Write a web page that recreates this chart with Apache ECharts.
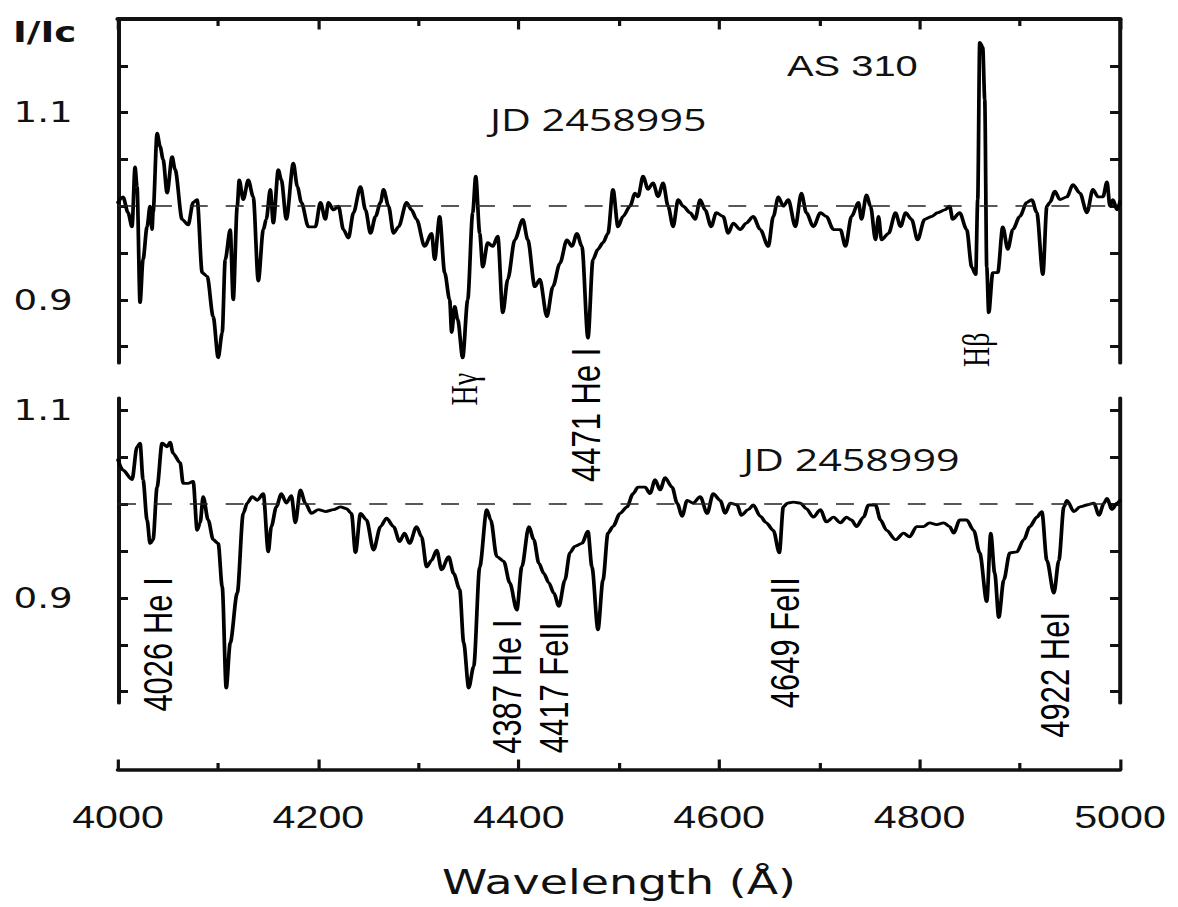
<!DOCTYPE html>
<html>
<head>
<meta charset="utf-8">
<script src="https://cdn.jsdelivr.net/npm/echarts@6/dist/echarts.min.js"></script>
<style>
  html, body { margin: 0; padding: 0; background: #fff; overflow: hidden; }
  /* The figure is laid out on a narrower canvas and widened horizontally */
  #chart { width: 886px; height: 907px; transform: scaleX(1.3296); transform-origin: 0 0; }
</style>
</head>
<body>
<div id="chart"></div>
<script>
// AS 310 spectra, normalised intensity I/Ic against wavelength (Angstrom)

// JD 2458995
const topWl = [4000,4005,4010,4014,4017,4019,4022,4025,4029,4032,4034,4035,4039,4042,4045,4049,4054,4057,4064,4070,4075,4079,4084,4089,4095,4100,4104,4107,4112,4115,4119,4121,4125,4130,4135,4140,4145,4148,4152,4155,4160,4163,4168,4175,4179,4183,4190,4197,4202,4207,4210,4215,4220,4225,4230,4235,4242,4247,4252,4257,4262,4265,4270,4275,4280,4288,4293,4298,4306,4313,4316,4321,4326,4331,4333,4336,4339,4344,4349,4354,4357,4361,4364,4369,4374,4379,4384,4389,4396,4404,4409,4416,4421,4428,4434,4441,4448,4453,4458,4463,4469,4474,4479,4484,4489,4494,4499,4504,4511,4516,4519,4524,4529,4534,4539,4544,4549,4554,4559,4564,4571,4576,4581,4586,4592,4597,4604,4609,4614,4621,4627,4634,4641,4649,4654,4659,4664,4669,4676,4682,4687,4694,4701,4707,4714,4721,4726,4732,4739,4742,4747,4751,4756,4759,4762,4769,4776,4781,4786,4792,4798,4805,4812,4818,4825,4830,4833,4840,4847,4852,4856,4858,4860,4863,4865,4867,4869,4873,4878,4883,4888,4893,4900,4907,4912,4917,4923,4927,4930,4935,4940,4947,4953,4960,4967,4973,4978,4983,4987,4990,4993,4997,5000];
const topFlux = [1.004,1.010,0.993,0.978,1.042,1.021,0.897,0.943,0.978,1.000,0.975,0.993,1.078,1.064,1.050,1.014,1.053,1.039,0.986,0.980,1.004,1.007,0.929,0.925,0.882,0.838,0.865,0.943,0.975,0.900,1.000,1.028,1.007,1.028,1.010,0.920,0.975,0.986,1.018,0.982,1.039,1.028,0.986,1.046,1.021,1.004,0.978,0.978,1.004,0.986,1.004,0.996,1.000,0.975,0.966,0.993,1.021,0.996,0.971,0.989,1.004,1.018,1.000,0.971,0.978,1.004,0.996,0.986,0.957,0.971,0.943,0.989,0.929,0.900,0.865,0.893,0.879,0.838,0.900,0.993,1.032,0.971,0.935,0.961,0.957,0.968,0.886,0.922,0.964,0.986,0.964,0.914,0.922,0.882,0.914,0.939,0.964,0.957,0.971,0.957,0.859,0.943,0.954,0.961,0.971,1.018,0.978,0.989,1.000,1.014,1.010,1.032,1.018,1.025,1.010,1.025,1.000,0.978,1.007,1.000,0.993,0.986,1.007,0.996,0.978,0.993,0.989,0.971,0.982,0.975,0.982,0.989,0.975,0.957,0.989,1.010,1.000,1.007,0.978,1.014,0.993,0.978,0.993,0.989,0.975,0.975,0.957,0.989,1.004,0.986,1.012,1.000,0.964,0.989,0.964,0.971,0.993,0.978,0.993,0.986,0.964,0.986,0.989,0.993,0.996,1.000,0.986,0.993,0.975,0.935,0.927,1.007,1.175,1.170,1.114,0.935,0.886,0.929,0.929,0.978,0.954,0.975,0.989,1.004,1.007,0.993,0.927,1.000,1.004,1.016,1.007,1.010,1.023,1.014,0.993,1.018,1.010,1.010,1.026,1.000,1.007,0.996,1.005];

// JD 2458999
const botWl = [4000,4005,4014,4019,4022,4025,4029,4032,4035,4039,4044,4049,4052,4055,4062,4065,4070,4075,4079,4082,4085,4090,4095,4100,4104,4108,4112,4119,4125,4129,4134,4139,4145,4150,4153,4158,4163,4168,4173,4177,4182,4187,4193,4200,4207,4215,4222,4228,4233,4237,4242,4248,4255,4262,4268,4275,4281,4286,4291,4298,4303,4308,4313,4318,4323,4330,4335,4341,4345,4350,4355,4361,4368,4372,4378,4385,4391,4398,4403,4410,4415,4420,4425,4430,4435,4440,4446,4451,4456,4463,4469,4473,4479,4484,4489,4494,4501,4508,4514,4519,4526,4531,4536,4541,4546,4553,4558,4563,4568,4574,4581,4588,4594,4601,4606,4611,4618,4622,4629,4634,4641,4647,4654,4660,4664,4668,4674,4681,4687,4694,4701,4707,4714,4721,4727,4732,4737,4744,4749,4756,4761,4767,4776,4784,4790,4797,4804,4810,4817,4824,4830,4834,4840,4847,4854,4860,4867,4871,4875,4879,4884,4890,4897,4904,4910,4917,4922,4927,4934,4939,4944,4947,4954,4960,4967,4974,4979,4984,4987,4992,4997,5000];
const botFlux = [1.047,1.036,1.026,1.061,1.065,1.026,0.983,0.958,0.962,1.018,1.065,1.061,1.066,1.054,1.044,1.022,1.022,1.024,0.972,0.980,1.008,0.983,0.962,0.958,0.912,0.804,0.852,0.905,0.990,1.001,1.008,1.004,1.011,0.949,0.976,0.997,1.011,1.001,1.009,0.980,1.015,1.001,0.990,0.994,0.992,0.994,0.997,0.995,0.990,0.948,0.990,0.983,0.951,0.976,0.985,0.976,0.960,0.969,0.958,0.976,0.965,0.933,0.940,0.951,0.930,0.944,0.926,0.909,0.852,0.804,0.827,0.933,0.994,0.983,0.944,0.939,0.916,0.887,0.933,0.976,0.962,0.937,0.926,0.916,0.905,0.891,0.919,0.948,0.955,0.958,0.971,0.933,0.866,0.919,0.969,0.976,0.990,0.997,1.011,1.018,1.018,1.011,1.026,1.015,1.028,1.018,1.001,0.987,1.004,1.001,1.008,0.990,1.011,1.004,0.990,1.001,0.999,0.988,0.994,0.999,0.987,0.980,0.972,0.948,0.997,1.001,1.002,1.001,0.995,0.986,0.994,0.981,0.986,0.980,0.986,0.983,0.976,0.986,0.999,0.999,0.983,0.972,0.962,0.969,0.965,0.976,0.976,0.980,0.978,0.980,0.976,0.969,0.983,0.983,0.972,0.948,0.896,0.969,0.926,0.879,0.919,0.948,0.949,0.962,0.976,0.986,0.992,0.940,0.905,0.940,0.997,1.004,0.992,0.997,0.999,1.001,0.988,1.001,1.006,0.994,1.001,1.004];

// Line identifications: text, wavelength of the label, intensity at the label's upper end
const topLineNames = ['H\u03b3', '4471 He I', 'H\u03b2'];
const topLineWl = [4346, 4467, 4857];
const topLineAt = [0.822, 0.849, 0.865];
const botLineNames = ['4026 He I', '4387 He I', '4417 FeII', '4649 FeII', '4922 HeI'];
const botLineWl = [4040, 4388, 4435, 4666, 4935];
const botLineAt = [0.922, 0.877, 0.874, 0.922, 0.885];

// Tick values and labelled ticks
const topTicks = [0.85, 0.9, 0.95, 1.0, 1.05, 1.1, 1.15];
const botTicks = [0.8, 0.85, 0.9, 0.95, 1.0, 1.05, 1.1];
const yLabels = [0.9, 1.1];
const xTickLabels = ['4000', '4200', '4400', '4600', '4800', '5000'];

const INK = '#111';
const pairs = (xs, ys) => xs.map((x, i) => [x, ys[i]]);
const greek = new Set(['H\u03b3', 'H\u03b2']);

const gridBase = { left: 88.75, right: 43.64, outerBoundsMode: 'none', containLabel: false };

function yAxis(grid, pos, min, max, ticks, labelled) {
  return {
    type: 'value', gridIndex: grid, position: pos, min: min, max: max,
    splitLine: { show: false },
    axisLine: { show: true, onZero: false, lineStyle: { color: INK, width: 3 } },
    axisTick: { show: true, inside: true, length: 7.5, customValues: ticks, lineStyle: { color: INK, width: 3 } },
    axisLabel: labelled ? {
      show: true, customValues: yLabels, margin: 34, color: INK,
      fontFamily: 'DejaVu Sans', fontSize: 28,
      formatter: v => v.toFixed(1)
    } : { show: false }
  };
}

function xAxis(grid, pos, visible, labelled) {
  return {
    type: 'value', gridIndex: grid, position: pos, min: 4000, max: 5000, interval: 200,
    show: visible,
    splitLine: { show: false },
    axisLine: { show: true, onZero: false, lineStyle: { color: INK, width: pos === 'top' ? 4 : 3.5 } },
    axisTick: { show: true, inside: true, length: 10.5, lineStyle: { color: INK, width: 2.4 } },
    minorTick: { show: true, splitNumber: 2, length: 7, lineStyle: { color: INK, width: 2.4 } },
    minorSplitLine: { show: false },
    axisLabel: labelled ? {
      show: true, margin: 32, color: INK, fontFamily: 'Liberation Sans', fontSize: 31,
      formatter: v => xTickLabels[Math.round((v - 4000) / 200)]
    } : { show: false },
    name: labelled ? 'Wavelength (\u00c5)' : '',
    nameLocation: 'middle', nameGap: 95,
    nameTextStyle: { color: INK, fontFamily: 'DejaVu Sans', fontSize: 34.5 }
  };
}

const dashed = {
  silent: true, symbol: ['none', 'none'], label: { show: false },
  lineStyle: { color: '#222', width: 1.6, type: [13.5, 13.5] },
  data: [{ yAxis: 1.0 }]
};

function lineLabels(xi, yi, names, wls, ats) {
  return {
    type: 'scatter', xAxisIndex: xi, yAxisIndex: yi, clip: false, silent: true,
    symbolSize: 1, itemStyle: { color: 'rgba(0,0,0,0)', opacity: 1 },
    data: names.map((n, i) => ({
      value: [wls[i], ats[i]],
      label: greek.has(n)
        ? { fontFamily: 'Liberation Serif', fontSize: 28 }
        : { fontFamily: 'Liberation Sans', fontSize: 31 },
      name: n
    })),
    label: {
      show: true, position: 'inside', rotate: 90, align: 'right', verticalAlign: 'middle',
      color: '#000', opacity: 1, formatter: p => p.name
    }
  };
}

const spectrumStyle = {
  type: 'line', showSymbol: false, symbol: 'none', silent: true,
  smooth: 0.3, smoothMonotone: 'x',
  lineStyle: { color: '#000', width: 2.8, join: 'round', cap: 'round' },
  markLine: dashed
};

const chart = echarts.init(document.getElementById('chart'), null, { renderer: 'svg' });
chart.setOption({
  animation: false,
  backgroundColor: '#fff',
  grid: [
    Object.assign({ top: 19, height: 344 }, gridBase),
    Object.assign({ top: 398, height: 305 }, gridBase),
    Object.assign({ top: 740, height: 30 }, gridBase)
  ],
  xAxis: [
    xAxis(0, 'top', true, false),
    xAxis(1, 'bottom', false, false),
    xAxis(2, 'bottom', true, true)
  ],
  yAxis: [
    yAxis(0, 'left', 0.8325, 1.2, topTicks, true),
    yAxis(0, 'right', 0.8325, 1.2, topTicks, false),
    yAxis(1, 'left', 0.788, 1.113, botTicks, true),
    yAxis(1, 'right', 0.788, 1.113, botTicks, false),
    { type: 'value', gridIndex: 2, min: 0, max: 1, show: false }
  ],
  graphic: [
    { type: 'text', x: 9.8, y: 32, style: { text: 'I/Ic', fill: INK, font: 'bold 28px "DejaVu Sans"', align: 'left', verticalAlign: 'middle' } },
    { type: 'text', x: 591.9, y: 65, style: { text: 'AS 310', fill: INK, font: '30px "Liberation Sans"', align: 'left', verticalAlign: 'middle' } },
    { type: 'text', x: 368.5, y: 119, style: { text: 'JD 2458995', fill: INK, font: '31px "Open Sans"', align: 'left', verticalAlign: 'middle' } },
    { type: 'text', x: 558.8, y: 459, style: { text: 'JD 2458999', fill: INK, font: '31px "Open Sans"', align: 'left', verticalAlign: 'middle' } }
  ],
  series: [
    Object.assign({ xAxisIndex: 0, yAxisIndex: 0, data: pairs(topWl, topFlux) }, spectrumStyle),
    Object.assign({ xAxisIndex: 1, yAxisIndex: 2, data: pairs(botWl, botFlux) }, spectrumStyle),
    lineLabels(0, 0, topLineNames, topLineWl, topLineAt),
    lineLabels(1, 2, botLineNames, botLineWl, botLineAt)
  ]
});
</script>
</body>
</html>
